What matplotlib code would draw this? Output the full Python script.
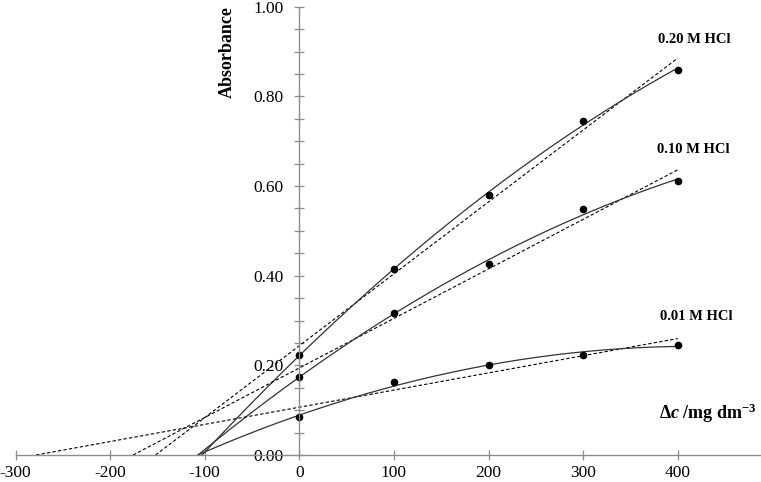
import numpy as np
import matplotlib
matplotlib.use("Agg")
import matplotlib.pyplot as plt

# standard additions, mg dm^-3
added = [0, 100, 200, 300, 400]

# absorbance read for each HCl concentration
abs_020 = [0.223, 0.415, 0.580, 0.745, 0.860]
abs_010 = [0.175, 0.316, 0.425, 0.549, 0.611]
abs_001 = [0.085, 0.162, 0.200, 0.223, 0.246]

series_labels = ["0.20 M HCl", "0.10 M HCl", "0.01 M HCl"]
xticks = [-300, -200, -100, 0, 100, 200, 300, 400]
yticks = [0.0, 0.2, 0.4, 0.6, 0.8, 1.0]

plt.rcParams["font.family"] = ["Liberation Serif", "DejaVu Serif"]
plt.rcParams["axes.unicode_minus"] = False
plt.rcParams["mathtext.fontset"] = "custom"
plt.rcParams["mathtext.rm"] = "Liberation Serif:bold"
plt.rcParams["mathtext.it"] = "Liberation Serif:italic:bold"
plt.rcParams["mathtext.bf"] = "Liberation Serif:bold"

fig = plt.figure(figsize=(7.61, 4.82), dpi=100)
ax = fig.add_axes([0.0204, 0.056, 0.9796, 0.930])

x = np.array(added, dtype=float)
label_pos = [(418, 0.926), (416, 0.681), (420, 0.308)]

for y, lab, pos in zip([abs_020, abs_010, abs_001], series_labels, label_pos):
    y = np.array(y)
    # linear fit (dashed) extended back to the x-intercept
    m, b = np.polyfit(x, y, 1)
    xl = np.array([-b / m, 400])
    ax.plot(xl, m * xl + b, color="black", lw=0.8, ls=(0, (3, 2)))
    # quadratic fit (solid) extended back to where it reaches zero
    p = np.polyfit(x, y, 2)
    roots = np.roots(p)
    x0 = roots[(roots > -200) & (roots < 0)].real.max()
    xq = np.linspace(x0, 400, 200)
    ax.plot(xq, np.polyval(p, xq), color="#333333", lw=0.9)
    ax.plot(x, y, "o", color="black", ms=4.5)
    ax.text(pos[0], pos[1], lab, fontsize=10.5, fontweight="bold",
            ha="center", va="center")

ax.set_xlim(-300, 488)
ax.set_ylim(0, 1.0)

ax.spines["top"].set_visible(False)
ax.spines["right"].set_visible(False)
ax.spines["left"].set_position(("data", 0))
ax.spines["bottom"].set_position(("data", 0))
for s in ["left", "bottom"]:
    ax.spines[s].set_color("#8c8c8c")
    ax.spines[s].set_linewidth(1.0)

ax.set_xticks(xticks)
ax.set_xticklabels([str(t) for t in xticks])
ax.set_yticks(yticks)
ax.set_yticklabels([f"{t:.2f}" for t in yticks])
ax.set_yticks(np.arange(0.05, 1.0, 0.05), minor=True)

ax.tick_params(axis="both", which="both", color="#8c8c8c", direction="inout",
               labelsize=12.5, width=0.9)
ax.tick_params(axis="y", which="both", length=7, pad=8)
ax.tick_params(axis="x", which="major", length=7, pad=4)

ax.text(-76, 0.90, "Absorbance", rotation=90, fontsize=13, fontweight="bold",
        ha="center", va="center")
ax.text(432, 0.094, r"$\Delta\mathit{c}$ /mg dm$^{-3}$", fontsize=13,
        fontweight="bold", ha="center", va="center")

fig.savefig("out.png", dpi=100)
